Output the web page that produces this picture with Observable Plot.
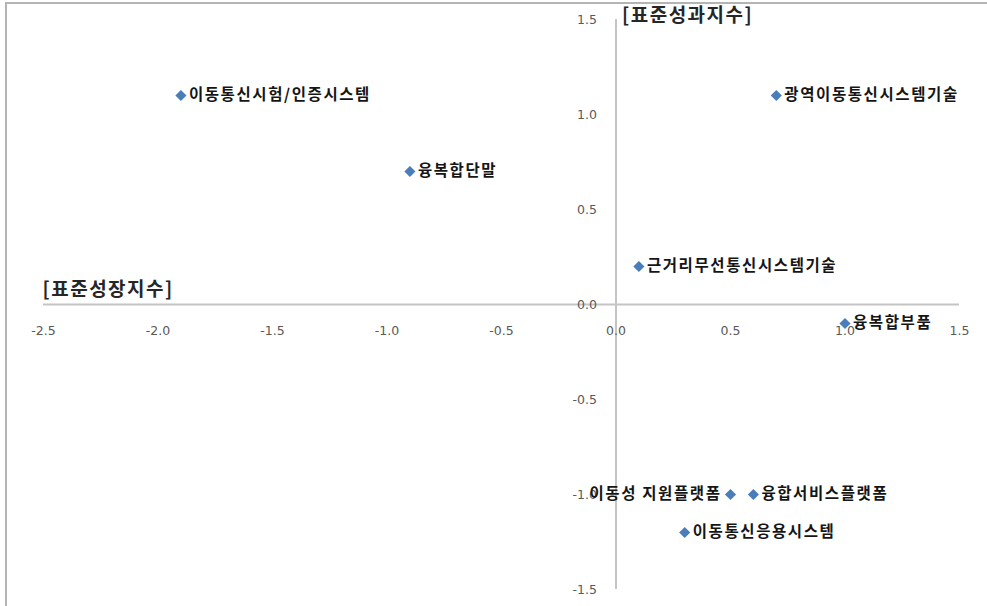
<!DOCTYPE html>
<html>
<head>
<meta charset="utf-8">
<script src="https://cdn.jsdelivr.net/npm/d3@7"></script>
<script src="https://cdn.jsdelivr.net/npm/@observablehq/plot@0.6"></script>
<style>
  html, body { margin: 0; padding: 0; background: #fff; }
  #wrap { position: relative; width: 987px; height: 606px; overflow: hidden; }
  #edge { position: absolute; left: 5px; top: 2px; width: 1200px; height: 800px;
          border-left: 2px solid #b4b4b4; border-top: 2px solid #b4b4b4; pointer-events: none; }
</style>
</head>
<body>
<div id="wrap"><div id="edge"></div></div>
<script>
// Technology areas: standardized growth index (x) vs standardized performance index (y)
const names = [
  "이동통신시험/인증시스템",
  "융복합단말",
  "광역이동통신시스템기술",
  "근거리무선통신시스템기술",
  "융복합부품",
  "이동성 지원플랫폼",
  "융합서비스플랫폼",
  "이동통신응용시스템"
];
const growth = [-1.9, -0.9, 0.7, 0.1, 1.0, 0.5, 0.6, 0.3];
const performance = [1.1, 0.7, 1.1, 0.2, -0.1, -1.0, -1.0, -1.2];
const labelSide = ["right", "right", "right", "right", "right", "left", "right", "right"];

const axisTitles = ["[표준성과지수]", "[표준성장지수]"];

const xTicks = [-2.5, -2.0, -1.5, -1.0, -0.5, 0.0, 0.5, 1.0, 1.5];
const xTickLabels = ["-2.5", "-2.0", "-1.5", "-1.0", "-0.5", "0.0", "0.5", "1.0", "1.5"];
const yTicks = [1.5, 1.0, 0.5, 0.0, -0.5, -1.0, -1.5];
const yTickLabels = ["1.5", "1.0", "0.5", "0.0", "-0.5", "-1.0", "-1.5"];

const points = names.map((name, i) => ({name, x: growth[i], y: performance[i], side: labelSide[i]}));
const xt = xTicks.map((v, i) => ({v, label: xTickLabels[i]}));
const yt = yTicks.map((v, i) => ({v, label: yTickLabels[i]}));

const korean = "'Noto Sans CJK KR', 'Noto Sans', sans-serif";
const numFont = "'DejaVu Sans', 'Noto Sans', sans-serif";
const axisColor = "#c4c4c4";

const labelStyle = {fontWeight: "bold", fontSize: 15.5, fill: "#151515", fontFamily: korean};
const titleStyle = {fontWeight: "bold", fontSize: 19, fill: "#262626", fontFamily: korean};

const chart = Plot.plot({
  width: 987,
  height: 606,
  marginLeft: 43,
  marginRight: 28,
  marginTop: 19,
  marginBottom: 17,
  x: {domain: [-2.5, 1.5], axis: null},
  y: {domain: [-1.5, 1.5], axis: null},
  style: {background: "transparent", overflow: "visible"},
  marks: [
    // axes crossing at the origin
    Plot.ruleY([0], {x1: -2.5, x2: 1.5, stroke: axisColor, strokeWidth: 2}),
    Plot.ruleX([0], {y1: -1.5, y2: 1.5, stroke: axisColor, strokeWidth: 2}),
    // tick labels
    Plot.text(xt, {x: "v", y: () => 0, text: "label", dy: 26, fill: "#595959",
      fontSize: 12.5, fontFamily: numFont}),
    Plot.text(yt, {x: () => 0, y: "v", text: "label", dx: -19, textAnchor: "end",
      fill: "#595959", fontSize: 12.5, fontFamily: numFont}),
    // axis titles
    Plot.text([axisTitles[0]], {x: () => 0, y: () => 1.5, text: d => d, dx: 6, dy: -4,
      textAnchor: "start", ...titleStyle}),
    Plot.text([axisTitles[1]], {x: () => -2.5, y: () => 0, text: d => d, dx: -1, dy: -15,
      textAnchor: "start", ...titleStyle}),
    // data points
    Plot.dot(points, {x: "x", y: "y", symbol: "diamond2", r: 5, fill: "#4a7ebb", stroke: "none"}),
    Plot.text(points.filter(d => d.side === "right"), {x: "x", y: "y", text: "name", dx: 8,
      textAnchor: "start", ...labelStyle}),
    Plot.text(points.filter(d => d.side === "left"), {x: "x", y: "y", text: "name", dx: -9,
      textAnchor: "end", ...labelStyle})
  ]
});

// wider tracking for the Korean labels and titles
d3.select(chart).selectAll("text")
  .filter(function () { return names.includes(this.textContent); })
  .attr("letter-spacing", "1.6px");
d3.select(chart).selectAll("text")
  .filter(function () { return axisTitles.includes(this.textContent); })
  .attr("letter-spacing", "1.5px");

chart.style.position = "absolute";
chart.style.left = "0px";
chart.style.top = "0px";
document.getElementById("wrap").appendChild(chart);
</script>
</body>
</html>
